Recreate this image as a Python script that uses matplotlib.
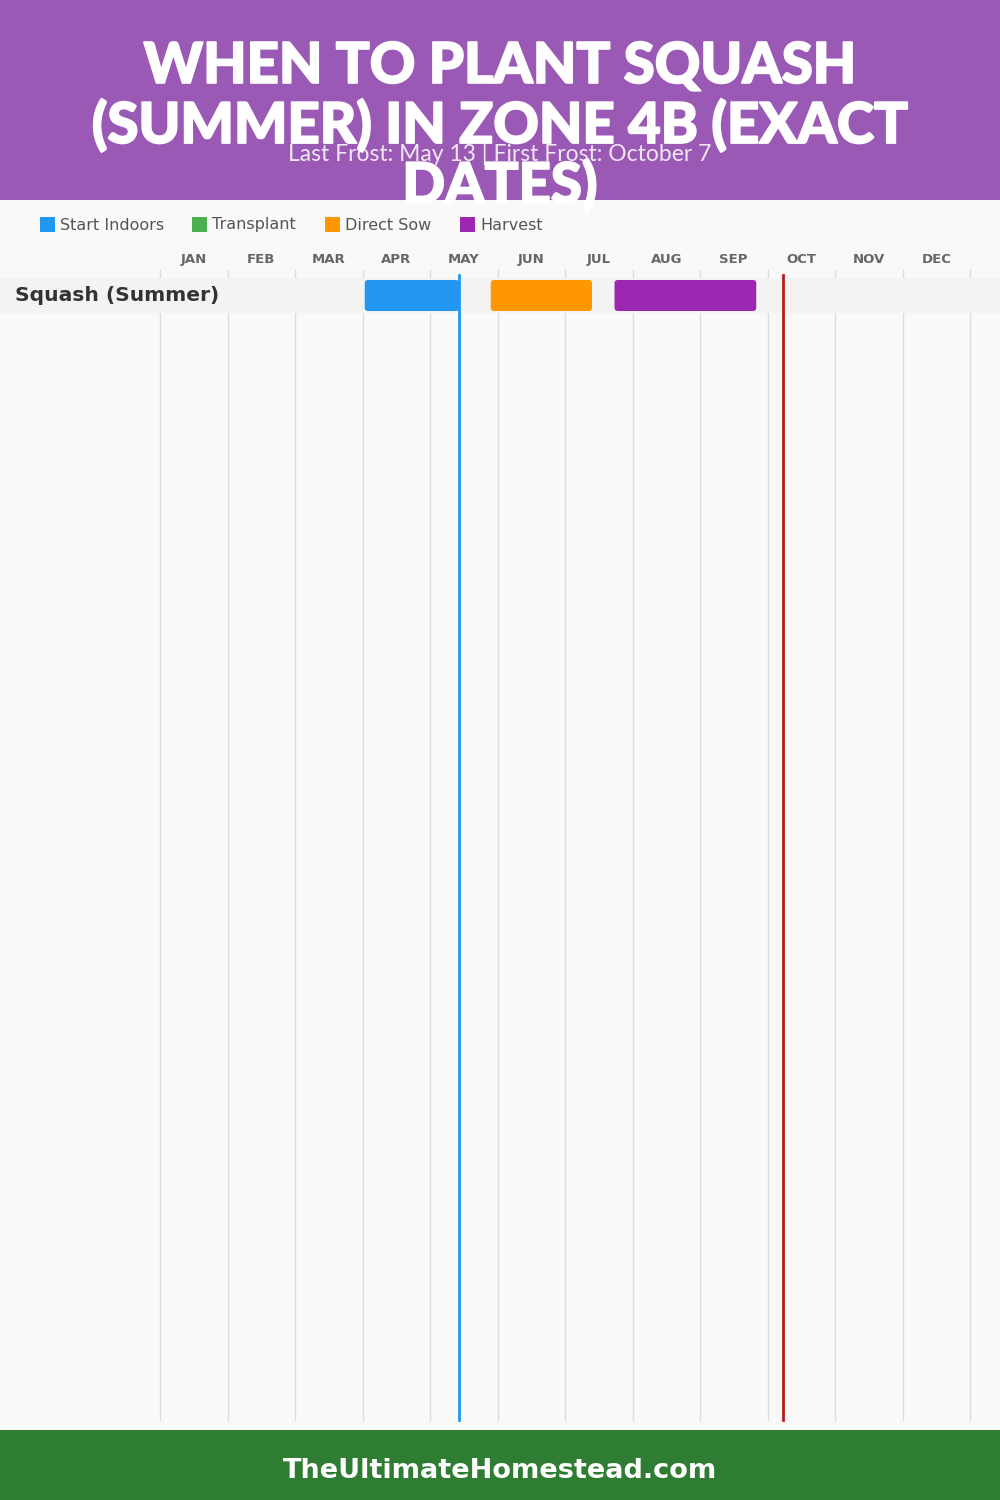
import matplotlib
matplotlib.use("Agg")
import matplotlib.pyplot as plt
import matplotlib.patheffects as pe
from matplotlib.patches import FancyBboxPatch, Rectangle

# data
months = ["JAN", "FEB", "MAR", "APR", "MAY", "JUN", "JUL", "AUG", "SEP", "OCT", "NOV", "DEC"]
crops = ["Squash (Summer)"]
# (crop, stage, start (month, day), end (month, day))
stages = ["Start Indoors", "Transplant", "Direct Sow", "Harvest"]
stage_colors = ["#2196F3", "#4CAF50", "#FF9800", "#9C27B0"]
periods = [
    ("Squash (Summer)", "Start Indoors", (4, 1), (5, 13)),
    ("Squash (Summer)", "Direct Sow", (5, 27), (7, 12)),
    ("Squash (Summer)", "Harvest", (7, 22), (9, 25)),
]
last_frost = (5, 13)
first_frost = (10, 7)
title = "WHEN TO PLANT SQUASH\n(SUMMER) IN ZONE 4B (EXACT\nDATES)"
subtitle = "Last Frost: May 13 | First Frost: October 7"
footer = "TheUltimateHomestead.com"


def day(md):
    # simple 30-day months
    return (md[0] - 1) * 30 + md[1]


W, H = 1000, 1500
body_font = "DejaVu Sans"
fig = plt.figure(figsize=(10, 15), dpi=100)
fig.patch.set_facecolor("#F9F9F7")

# main chart axes: x in days, y in rows (35 px each)
px_per_day = 810 / 360
row_h = 35
ax = fig.add_axes([0, 70 / H, 1, (H - 200 - 70) / H])
ax.set_xlim(-160 / px_per_day, 360 + 30 / px_per_day)
ax.set_ylim((1430 - 278) / row_h, (200 - 278) / row_h)
ax.axis("off")


def py(p):
    return (p - 278) / row_h


# month grid + labels
for i, m in enumerate(months):
    ax.plot([i * 30, i * 30], [py(270), py(1420)], color="#DDDDDD", lw=1, zorder=1)
    ax.text(i * 30 + 15, py(259), m, ha="center", va="center", fontsize=9.5,
            fontweight="bold", color="#666666", family=body_font)
ax.plot([360, 360], [py(270), py(1420)], color="#DDDDDD", lw=1, zorder=1)

# rows
x_lo, x_hi = ax.get_xlim()
for r, crop in enumerate(crops):
    ax.add_patch(Rectangle((x_lo, r), x_hi - x_lo, 1,
                           facecolor="#F3F3F2", edgecolor="none", zorder=2))
    ax.text(x_lo + 15 / px_per_day, r + 0.5, crop, ha="left", va="center",
            fontsize=14.6, fontweight="bold", color="#333333", family=body_font)

for crop, stage, s, e in periods:
    r = crops.index(crop)
    x0, x1 = day(s), day(e)
    c = stage_colors[stages.index(stage)]
    ax.add_patch(FancyBboxPatch((x0, r + 2 / row_h), x1 - x0, 1 - 4 / row_h,
                                boxstyle="round,pad=0,rounding_size=1.5",
                                mutation_aspect=px_per_day / row_h,
                                facecolor=c, edgecolor="none", zorder=3))

# frost lines
ax.plot([day(last_frost)] * 2, [py(275), py(1420)], color="#2196F3", lw=2, zorder=4)
ax.plot([day(first_frost)] * 2, [py(275), py(1420)], color="#B71C1C", lw=2, zorder=4)

# legend
lx = [40, 192, 325, 460]
for x, s, c in zip(lx, stages, stage_colors):
    fig.patches.append(Rectangle((x / W, 1 - 232 / H), 15 / W, 15 / H, facecolor=c,
                                 edgecolor="none", transform=fig.transFigure, figure=fig))
    fig.text((x + 20) / W, 1 - 225 / H, s, ha="left", va="center", fontsize=11.5,
             color="#555555", family=body_font)

# header / footer bands
hax = fig.add_axes([0, 1 - 200 / H, 1, 200 / H])
hax.set_facecolor("#9B59B6")
fax = fig.add_axes([0, 0, 1, 70 / H])
fax.set_facecolor("#2E7D32")
for a in (hax, fax):
    a.set_xticks([])
    a.set_yticks([])
    for sp in a.spines.values():
        sp.set_visible(False)

fig.text(0.5, 1 - 127 / H, title, ha="center", va="center", fontsize=40.5,
         fontweight="black", color="white", family="Lato", linespacing=1.17, zorder=10,
         path_effects=[pe.withStroke(linewidth=1.3, foreground="white")])
fig.text(0.5, 1 - 154 / H, subtitle, ha="center", va="center", fontsize=16.5,
         color="white", alpha=0.85, family="Lato", zorder=11)
fig.text(0.5, 1 - 1471 / H, footer, ha="center", va="center", fontsize=19.5,
         fontweight="bold", color="white", family=body_font, zorder=10)

fig.savefig("out.png", dpi=100, facecolor=fig.get_facecolor())
